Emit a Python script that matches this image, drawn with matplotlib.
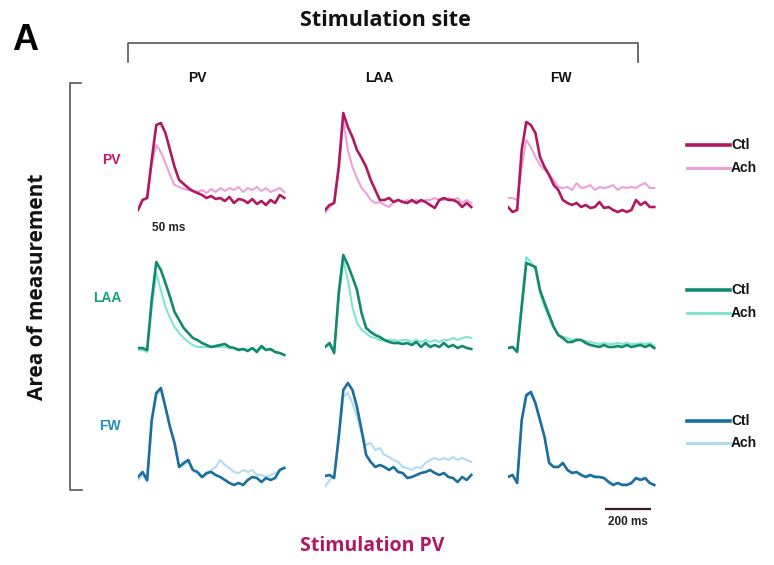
import matplotlib
matplotlib.use("Agg")
import matplotlib.pyplot as plt
from matplotlib.lines import Line2D

# ---------------- data ----------------
time_ms = list(range(0, 641, 20))  # sample grid (ms)

stim_sites = ["PV", "LAA", "FW"]
meas_sites = ["PV", "LAA", "FW"]
legend_labels = ["Ctl", "Ach"]

# rows: area of measurement, columns: stimulation site
pv_pv_ctl = [10,20,22,60,95,97,87,70,53,40,36,32,29,27,25,22,24,21,22,19,23,17,21,20,17,21,16,19,15,20,17,25,22]
pv_pv_ach = [10,20,22,55,75,68,57,45,35,33,31,30,29,28,30,27,31,28,32,29,32,30,33,28,32,30,33,29,32,28,30,32,28]
pv_laa_ctl = [10,15,17,53,107,93,83,70,62,53,40,30,20,20,22,18,20,18,17,20,17,20,18,15,12,20,22,20,20,18,13,17,13]
pv_laa_ach = [7,13,17,50,100,70,53,42,32,27,20,17,18,15,13,18,20,18,20,18,20,18,20,20,22,20,20,22,20,22,17,20,17]
pv_fw_ctl = [13,8,10,70,98,95,87,63,53,45,35,30,20,17,15,17,13,15,12,13,18,12,13,10,8,10,8,10,20,15,18,13,13]
pv_fw_ach = [22,22,20,53,80,73,63,55,50,45,40,33,32,33,30,37,32,33,35,30,33,32,33,35,30,33,32,33,32,35,37,32,32]

laa_pv_ctl = [12,12,10,60,98,90,77,63,48,40,32,27,22,20,17,15,13,14,15,16,13,12,10,11,9,12,8,14,10,11,8,7,5]
laa_pv_ach = [10,10,8,53,87,70,53,42,33,27,22,18,15,13,13,13,13,13,13,13,12,12,11,11,10,11,10,12,10,10,8,7,5]
laa_laa_ctl = [13,17,7,67,105,95,83,70,47,32,28,25,23,20,18,17,17,16,17,15,18,13,17,13,15,13,17,13,15,12,14,12,11]
laa_laa_ach = [13,15,8,63,100,80,53,37,30,27,23,22,20,20,20,20,19,20,20,18,20,18,20,18,20,18,20,20,22,20,22,23,22]
laa_fw_ctl = [12,13,8,53,97,95,93,70,57,45,33,25,22,18,18,20,20,17,15,14,13,15,13,13,14,13,15,13,14,15,13,15,12]
laa_fw_ach = [12,13,9,57,103,98,90,67,53,42,32,25,23,22,20,21,20,19,18,17,16,17,16,16,17,16,17,16,16,17,16,17,14]

fw_pv_ctl = [18,23,15,75,102,107,88,68,52,28,32,35,25,23,18,22,23,20,18,15,12,10,12,10,15,18,17,13,17,15,17,25,27]
fw_pv_ach = [15,20,13,72,100,105,87,67,50,28,30,33,25,22,17,20,25,28,35,30,27,23,22,25,23,25,20,20,18,20,22,25,28]
fw_laa_ctl = [19,20,17,58,105,112,105,88,65,40,33,28,30,28,25,28,23,22,17,18,20,22,23,25,22,20,22,18,17,13,18,15,20]
fw_laa_ach = [8,15,18,55,98,102,92,78,62,50,52,45,47,40,38,35,33,28,27,25,28,27,32,35,37,35,37,35,38,35,37,35,33]
fw_fw_ctl = [18,20,12,75,100,103,92,75,58,32,28,28,32,25,22,23,20,18,20,18,18,17,13,10,12,10,10,12,17,15,17,12,10]
fw_fw_ach = [18,20,13,73,98,101,90,74,57,32,29,28,31,26,22,23,21,19,20,19,18,17,14,11,12,11,11,12,16,15,16,12,10]

traces = {
    ("PV", "PV"): (pv_pv_ctl, pv_pv_ach), ("PV", "LAA"): (pv_laa_ctl, pv_laa_ach), ("PV", "FW"): (pv_fw_ctl, pv_fw_ach),
    ("LAA", "PV"): (laa_pv_ctl, laa_pv_ach), ("LAA", "LAA"): (laa_laa_ctl, laa_laa_ach), ("LAA", "FW"): (laa_fw_ctl, laa_fw_ach),
    ("FW", "PV"): (fw_pv_ctl, fw_pv_ach), ("FW", "LAA"): (fw_laa_ctl, fw_laa_ach), ("FW", "FW"): (fw_fw_ctl, fw_fw_ach),
}

# ---------------- style ----------------
W, H = 774, 565
ctl_colors = {"PV": "#b0185f", "LAA": "#138a6e", "FW": "#1b6e9e"}
ach_colors = {"PV": "#eaa2dc", "LAA": "#82e6cf", "FW": "#b2dcf2"}
label_colors = {"PV": "#c2186a", "LAA": "#17a07c", "FW": "#1f8cc0"}

fig = plt.figure(figsize=(W / 100, H / 100), dpi=100)
fig.patch.set_facecolor("white")

def fx(x):
    return x / W

def fy(y):
    return 1 - y / H

def add_ax_px(x, y, w, h):
    return fig.add_axes([x / W, 1 - (y + h) / H, w / W, h / H])

col_left = {"PV": 138, "LAA": 325, "FW": 508}
row_box = {"PV": (110, 110), "LAA": (250, 110), "FW": (375, 120)}
panel_w = 160
xmax = 700

SANS = ["Liberation Sans", "DejaVu Sans"]
TITLE = ["Open Sans", "DejaVu Sans"]

axes = {}
for m in meas_sites:
    top, hgt = row_box[m]
    for s in stim_sites:
        ax = add_ax_px(col_left[s], top, panel_w, hgt)
        ctl, ach = traces[(m, s)]
        ax.plot(time_ms, ach, color=ach_colors[m], lw=1.5, solid_joinstyle="round")
        ax.plot(time_ms, ctl, color=ctl_colors[m], lw=1.9, solid_joinstyle="round")
        ax.set_xlim(0, xmax)
        ax.set_ylim(0, hgt)
        ax.axis("off")
        axes[(m, s)] = ax

# scale bar 200 ms in FW/FW panel
ax = axes[("FW", "FW")]
ax.plot([424, 624], [-14, -14], color="#3a1a2a", lw=1.6, clip_on=False, solid_capstyle="butt")
ax.text(524, -21, "200 ms", ha="center", va="top", fontsize=8.5, fontweight="bold",
        family=SANS, color="#222222", clip_on=False)

# 50 ms label
fig.text(fx(152), fy(228), "50 ms", ha="left", va="center", fontsize=8.5,
         fontweight="bold", family=SANS, color="#222222")

# row labels
row_label_y = {"PV": 160, "LAA": 298, "FW": 426}
for m in meas_sites:
    fig.text(fx(121), fy(row_label_y[m]), m, ha="right", va="center", fontsize=10,
             fontweight="bold", family=SANS, color=label_colors[m])

# column labels
col_label_x = {"PV": 197, "LAA": 379, "FW": 561}
for s in stim_sites:
    fig.text(fx(col_label_x[s]), fy(78), s, ha="center", va="center", fontsize=10,
             fontweight="bold", family=SANS, color="#111111")

# top bracket and title
fig.add_artist(Line2D([fx(128), fx(128), fx(638), fx(638)], [fy(62), fy(43), fy(43), fy(62)],
                      color="#555555", lw=1.2))
fig.text(fx(385), fy(21), "Stimulation site", ha="center", va="center", fontsize=15.5,
         fontweight="bold", family=TITLE, color="#111111")

# left bracket and label
fig.add_artist(Line2D([fx(81), fx(70), fx(70), fx(82)], [fy(83), fy(83), fy(490), fy(490)],
                      color="#555555", lw=1.2))
fig.text(fx(38), fy(287), "Area of measurement", ha="center", va="center", rotation=90,
         fontsize=15, fontweight="bold", family=TITLE, color="#111111")

# panel letter
fig.text(fx(12), fy(40), "A", ha="left", va="center", fontsize=26, fontweight="bold",
         family=SANS, color="#000000")

# legends
legend_y = {"PV": (145, 168), "LAA": (290, 313), "FW": (421, 443)}
for m in meas_sites:
    y_ctl, y_ach = legend_y[m]
    fig.add_artist(Line2D([fx(687), fx(730)], [fy(y_ctl), fy(y_ctl)], color=ctl_colors[m], lw=2.6))
    fig.add_artist(Line2D([fx(687), fx(730)], [fy(y_ach), fy(y_ach)], color=ach_colors[m], lw=2.2))
    fig.text(fx(731), fy(y_ctl), legend_labels[0], ha="left", va="center", fontsize=10,
             fontweight="bold", family=SANS, color="#111111")
    fig.text(fx(731), fy(y_ach), legend_labels[1], ha="left", va="center", fontsize=10,
             fontweight="bold", family=SANS, color="#111111")

# bottom title
fig.text(fx(372), fy(546), "Stimulation PV", ha="center", va="center", fontsize=14,
         fontweight="bold", family=TITLE, color="#b0185f")

fig.savefig("out.png", dpi=100, facecolor="white")
